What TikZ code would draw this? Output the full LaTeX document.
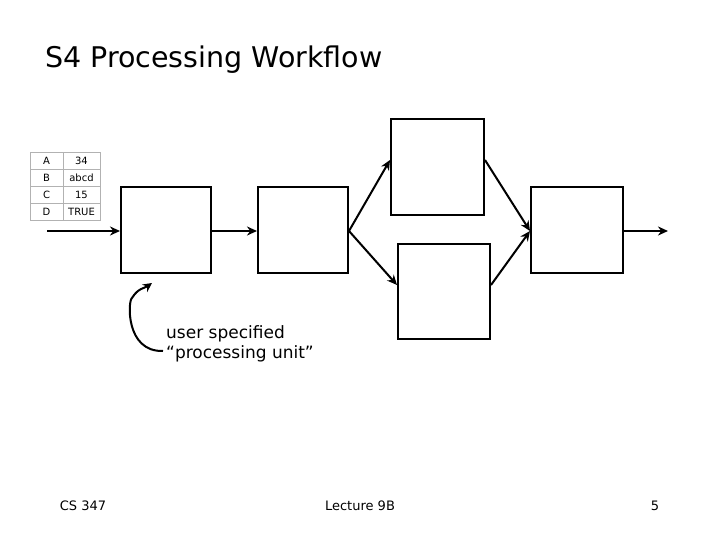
\documentclass[tikz,border=0pt]{standalone}
\usepackage{fontspec}
\setmainfont{DejaVu Sans}
\usetikzlibrary{arrows.meta}
\tikzset{unit/.style={draw, line width=2pt, inner sep=0pt},
  flow/.style={line width=2pt, -{Stealth[length=10pt,width=9pt]}},
  cell/.style={draw=gray!60, minimum width=33pt, minimum height=17pt, inner sep=0pt, font=\fontsize{10}{10}\selectfont}}
\begin{document}
\begin{tikzpicture}[x=1pt,y=-1pt]
\useasboundingbox (0,0) rectangle (720,540);
\node[anchor=base west, inner sep=0pt, font=\fontsize{28.5}{28}\selectfont] (title) at (45,68) {S4 Processing Workflow};
% input table
\foreach \k/\v [count=\i] in {A/34, B/abcd, C/15, D/TRUE} {
  \node[cell] (k\i) at (46.5,144+17*\i) {\k};
  \node[cell, minimum width=37pt] (v\i) at (81.5,144+17*\i) {\v};
}
\node[unit, minimum width=90pt, minimum height=86pt] (P1) at (166,230) {};
\node[unit, minimum width=90pt, minimum height=86pt] (P2) at (303,230) {};
\node[unit, minimum width=93pt, minimum height=96pt] (P3) at (437.5,167) {};
\node[unit, minimum width=92pt, minimum height=95pt] (P4) at (444,291.5) {};
\node[unit, minimum width=92pt, minimum height=86pt] (P5) at (577,230) {};
\coordinate (in) at (47,231);
\coordinate (out) at (668,231);
\draw[flow] (in) -- (P1.west|-in);
\draw[flow] (P1.east|-in) -- (P2.west|-in);
\draw[flow] (P2.east|-in) -- (P3.west|-0,160);
\draw[flow] (P2.east|-in) -- (P4.west|-0,285);
\draw[flow] (P3.east|-0,160) -- (P5.west|-in);
\draw[flow] (P4.east|-0,285) -- (P5.west|-in);
\draw[flow] (P5.east|-in) -- (out);
% annotation
\node[anchor=base west, inner sep=0pt, align=left, font=\fontsize{17}{20}\selectfont] (note) at (166,358) {user specified\\“processing unit”};
\draw[line width=2pt, -{Stealth[length=9pt,width=9pt]}] (163,351) .. controls (125,352) and (128,300) .. (132,298) .. controls (138,288) and (145,288) .. (152,283);
% footer
\node[anchor=base, font=\fontsize{13}{13}\selectfont] (course) at (83,510) {CS 347};
\node[anchor=base, font=\fontsize{13}{13}\selectfont] (lect) at (360,510) {Lecture 9B};
\node[anchor=base, font=\fontsize{13}{13}\selectfont] (page) at (655,510) {5};
\end{tikzpicture}
\end{document}
